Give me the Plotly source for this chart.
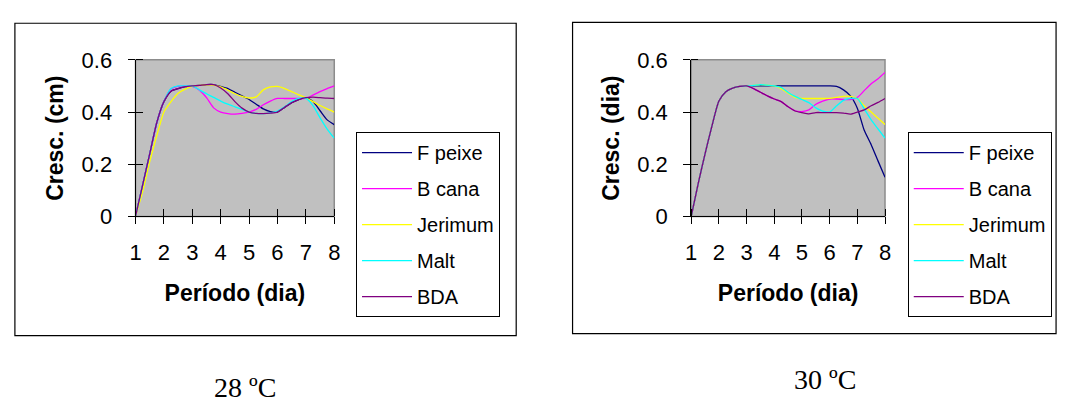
import plotly.graph_objects as go

W, H = 1068, 403

# ---------------- data ----------------
days = [1, 1.25, 1.5, 1.75, 2, 2.25, 2.5, 2.75, 3, 3.25, 3.5, 3.75, 4, 4.25, 4.5, 4.75,
        5, 5.25, 5.5, 5.75, 6, 6.25, 6.5, 6.75, 7, 7.25, 7.5, 7.75, 8]
x_ticks = [1, 2, 3, 4, 5, 6, 7, 8]
y_ticks = [0, 0.2, 0.4, 0.6]
y_tick_labels = ["0", "0.2", "0.4", "0.6"]
series_names = ["F peixe", "B cana", "Jerimum", "Malt", "BDA"]
series_colors = ["#000080", "#FF00FF", "#FFFF00", "#00FFFF", "#800080"]

# 28 ºC
f_peixe_28 = [0, 0.12, 0.24, 0.36, 0.44, 0.48, 0.49, 0.497, 0.50, 0.502, 0.505, 0.505, 0.498, 0.49, 0.476, 0.462,
              0.448, 0.43, 0.412, 0.402, 0.40, 0.418, 0.436, 0.448, 0.455, 0.44, 0.405, 0.37, 0.352]
b_cana_28 = [0, 0.12, 0.24, 0.36, 0.44, 0.488, 0.498, 0.50, 0.498, 0.484, 0.455, 0.416, 0.40, 0.394, 0.392, 0.395,
             0.40, 0.41, 0.428, 0.442, 0.452, 0.452, 0.452, 0.452, 0.452, 0.465, 0.478, 0.49, 0.50]
jerimum_28 = [0, 0.095, 0.21, 0.31, 0.40, 0.44, 0.472, 0.488, 0.498, 0.502, 0.504, 0.503, 0.496, 0.484, 0.47, 0.46,
              0.454, 0.458, 0.485, 0.496, 0.498, 0.49, 0.478, 0.466, 0.454, 0.44, 0.425, 0.412, 0.40]
malt_28 = [0, 0.12, 0.24, 0.36, 0.44, 0.49, 0.50, 0.50, 0.50, 0.485, 0.47, 0.456, 0.442, 0.43, 0.42, 0.41,
           0.40, 0.395, 0.394, 0.397, 0.404, 0.42, 0.44, 0.452, 0.452, 0.425, 0.378, 0.335, 0.30]
bda_28 = [0, 0.12, 0.24, 0.36, 0.44, 0.48, 0.49, 0.497, 0.50, 0.502, 0.505, 0.505, 0.492, 0.47, 0.44, 0.415,
          0.40, 0.395, 0.394, 0.396, 0.40, 0.418, 0.436, 0.448, 0.455, 0.457, 0.455, 0.453, 0.452]

# 30 ºC
f_peixe_30 = [0, 0.125, 0.24, 0.347, 0.442, 0.478, 0.492, 0.498, 0.50, 0.50, 0.50, 0.50, 0.50, 0.50, 0.50, 0.50,
              0.50, 0.50, 0.50, 0.50, 0.50, 0.498, 0.485, 0.462, 0.415, 0.33, 0.275, 0.212, 0.15]
b_cana_30 = [0, 0.125, 0.24, 0.347, 0.442, 0.478, 0.492, 0.498, 0.50, 0.49, 0.476, 0.462, 0.45, 0.44, 0.42, 0.405,
             0.402, 0.408, 0.43, 0.442, 0.45, 0.45, 0.448, 0.448, 0.456, 0.482, 0.508, 0.528, 0.552]
jerimum_30 = [0, 0.125, 0.24, 0.347, 0.442, 0.478, 0.492, 0.498, 0.50, 0.502, 0.505, 0.503, 0.50, 0.49, 0.472, 0.456,
              0.452, 0.452, 0.452, 0.452, 0.452, 0.456, 0.46, 0.46, 0.452, 0.424, 0.40, 0.376, 0.352]
malt_30 = [0, 0.125, 0.24, 0.347, 0.442, 0.478, 0.492, 0.498, 0.50, 0.502, 0.505, 0.503, 0.50, 0.494, 0.475, 0.46,
           0.448, 0.436, 0.416, 0.404, 0.40, 0.424, 0.445, 0.452, 0.452, 0.412, 0.37, 0.335, 0.30]
bda_30 = [0, 0.125, 0.24, 0.347, 0.442, 0.478, 0.492, 0.498, 0.50, 0.49, 0.476, 0.462, 0.45, 0.44, 0.42, 0.404,
          0.398, 0.393, 0.398, 0.398, 0.398, 0.398, 0.396, 0.392, 0.40, 0.408, 0.424, 0.437, 0.452]

data_28 = [f_peixe_28, b_cana_28, jerimum_28, malt_28, bda_28]
data_30 = [f_peixe_30, b_cana_30, jerimum_30, malt_30, bda_30]

y_title_28 = "Cresc. (cm)"
y_title_30 = "Cresc. (dia)"
x_title = "Período (dia)"
caption_28 = "28 ºC"
caption_30 = "30 ºC"

# ---------------- figure ----------------
SANS = "Liberation Sans, Arial, sans-serif"
SERIF = "Liberation Serif, Times New Roman, serif"

def px_x(v):
    return v / W

def px_y(v):
    return 1 - v / H

fig = go.Figure()

for i, (name, color) in enumerate(zip(series_names, series_colors)):
    fig.add_trace(go.Scatter(
        x=days, y=data_28[i], name=name, mode="lines",
        line=dict(color=color, width=1.3, shape="spline", smoothing=0.6),
        xaxis="x", yaxis="y", legend="legend", legendgroup=f"a{i}",
        hoverinfo="x+y+name"))
for i, (name, color) in enumerate(zip(series_names, series_colors)):
    fig.add_trace(go.Scatter(
        x=days, y=data_30[i], name=name, mode="lines",
        line=dict(color=color, width=1.3, shape="spline", smoothing=0.6),
        xaxis="x2", yaxis="y2", legend="legend2", legendgroup=f"b{i}",
        hoverinfo="x+y+name"))

eps = 1e-6
TICK_FONT = dict(family=SANS, size=22, color="black")
TITLE_FONT = dict(family=SANS, size=23, color="black")

def xaxis_cfg(domain, anchor):
    return dict(
        domain=domain, anchor=anchor, range=[1, 8],
        tickmode="array", tickvals=x_ticks,
        ticks="outside", ticklen=7, tickwidth=1, tickcolor="black",
        minor=dict(tickmode="array", tickvals=[v + eps for v in x_ticks], ticks="inside",
                   ticklen=7, tickwidth=1, tickcolor="black", showgrid=False),
        showline=True, linecolor="black", linewidth=1,
        showgrid=False, zeroline=False,
        tickfont=TICK_FONT,
        ticklabelstandoff=9,
        title=dict(text="<b>" + x_title + "</b>", font=TITLE_FONT, standoff=21),
        fixedrange=True,
    )

def yaxis_cfg(domain, anchor, title):
    return dict(
        domain=domain, anchor=anchor, range=[0, 0.6],
        tickmode="array", tickvals=y_ticks, ticktext=y_tick_labels,
        ticks="outside", ticklen=7, tickwidth=1, tickcolor="black",
        minor=dict(tickmode="array", tickvals=[v + eps for v in y_ticks], ticks="inside",
                   ticklen=7, tickwidth=1, tickcolor="black", showgrid=False),
        showline=True, linecolor="black", linewidth=1,
        showgrid=False, zeroline=False,
        tickfont=TICK_FONT,
        ticklabelstandoff=11,
        title=dict(text="<b>" + title + "</b>", font=TITLE_FONT, standoff=11),
        fixedrange=True,
    )

ydom = [px_y(218), px_y(51)]

legend_common = dict(
    xanchor="left", yanchor="top",
    bgcolor="white", bordercolor="black", borderwidth=1,
    font=dict(family=SANS, size=20, color="black"),
    tracegroupgap=7, itemwidth=50, traceorder="grouped",
)

fig.update_layout(
    width=W, height=H,
    margin=dict(l=0, r=0, t=0, b=0),
    paper_bgcolor="white", plot_bgcolor="#C0C0C0",
    showlegend=True,
    xaxis=xaxis_cfg([px_x(131), px_x(332)], "y"),
    yaxis=yaxis_cfg(ydom, "x", y_title_28),
    xaxis2=xaxis_cfg([px_x(693), px_x(889)], "y2"),
    yaxis2=yaxis_cfg(ydom, "x2", y_title_30),
    legend=dict(x=px_x(354), y=px_y(128), **legend_common),
    legend2=dict(x=px_x(912), y=px_y(128), **legend_common),
    shapes=[
        # chart frames
        dict(type="rect", xref="paper", yref="paper", x0=px_x(9), x1=px_x(516), y0=px_y(345), y1=px_y(12),
             line=dict(color="black", width=1.2), fillcolor="rgba(0,0,0,0)", layer="below"),
        dict(type="rect", xref="paper", yref="paper", x0=px_x(573), x1=px_x(1062), y0=px_y(343), y1=px_y(11),
             line=dict(color="black", width=1.2), fillcolor="rgba(0,0,0,0)", layer="below"),
        # plot-area borders
        dict(type="rect", xref="x domain", yref="y domain", x0=0, x1=1, y0=0, y1=1,
             line=dict(color="#8C8C8C", width=1.5), layer="below"),
        dict(type="rect", xref="x2 domain", yref="y2 domain", x0=0, x1=1, y0=0, y1=1,
             line=dict(color="#8C8C8C", width=1.5), layer="below"),
    ],
    annotations=[
        dict(text=caption_28, xref="paper", yref="paper", x=px_x(242), y=px_y(400),
             xanchor="center", yanchor="middle", showarrow=False,
             font=dict(family=SERIF, size=28, color="black")),
        dict(text=caption_30, xref="paper", yref="paper", x=px_x(828), y=px_y(392),
             xanchor="center", yanchor="middle", showarrow=False,
             font=dict(family=SERIF, size=28, color="black")),
    ],
)

fig.write_html("out.html")
